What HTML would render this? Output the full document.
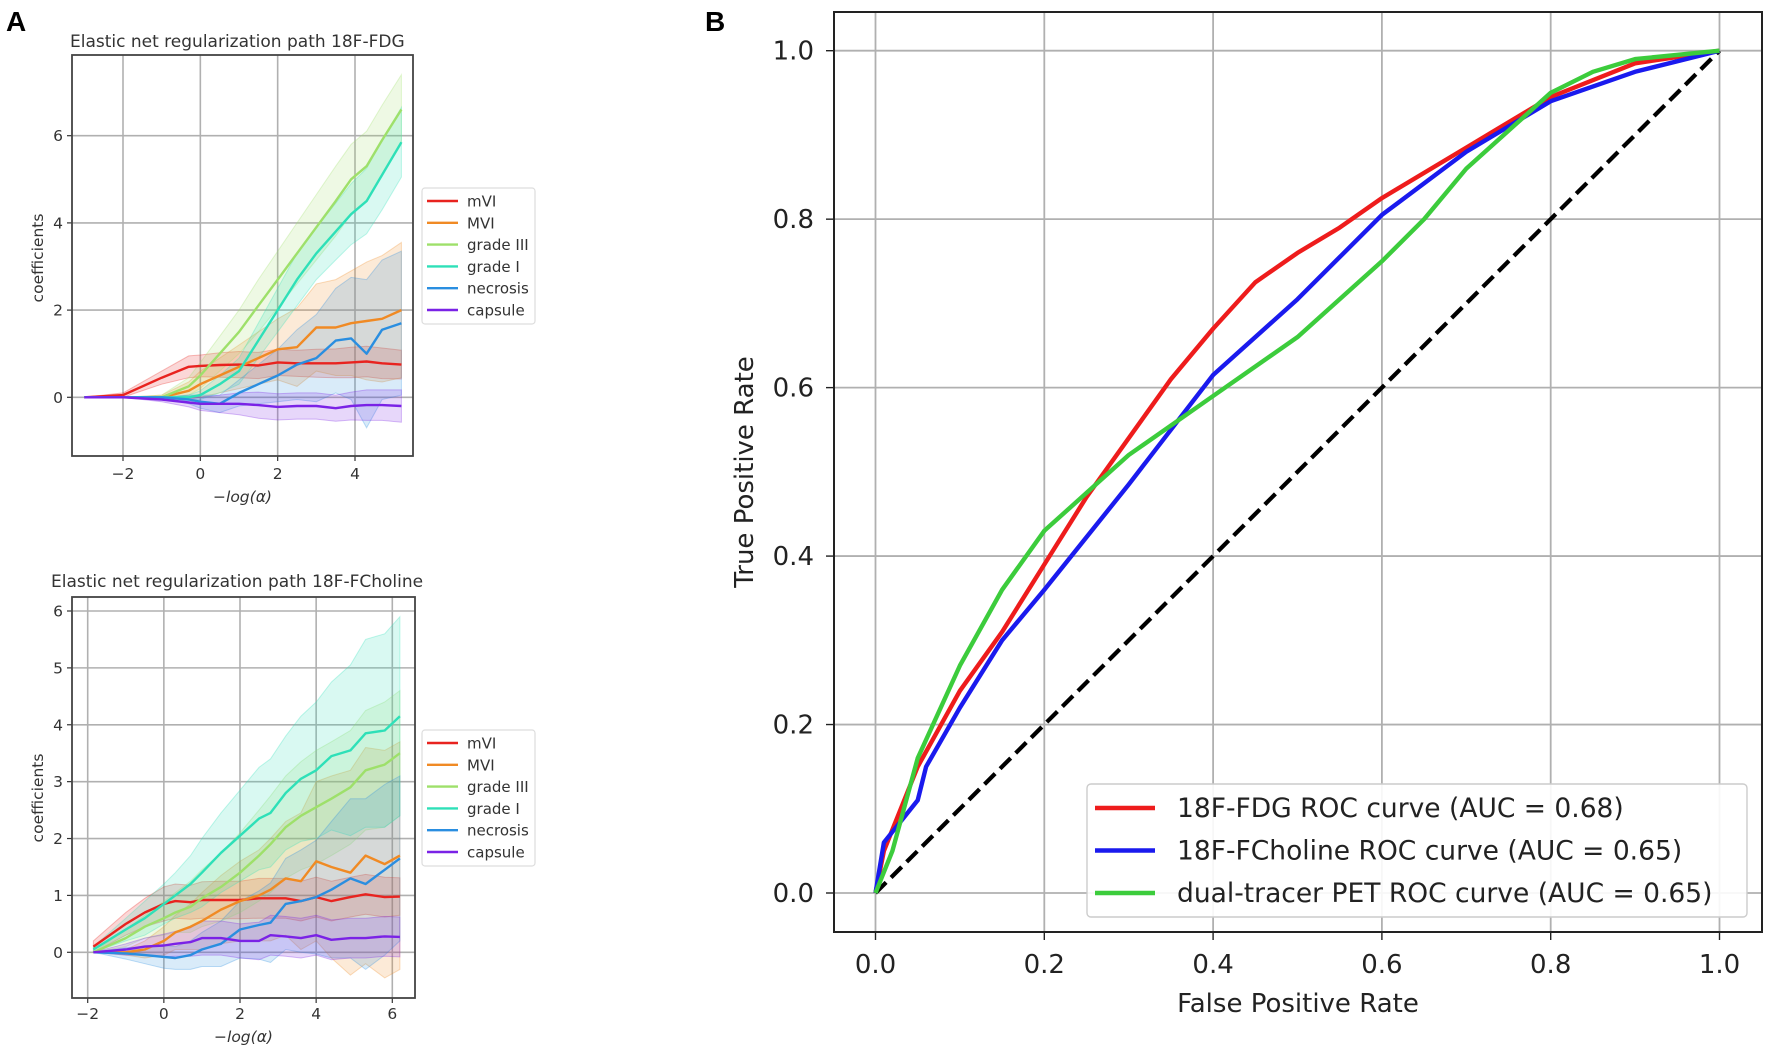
<!DOCTYPE html>
<html><head><meta charset="utf-8">
<style>
html,body{margin:0;padding:0;background:#fff;}
svg{display:block;font-family:"DejaVu Sans","Liberation Sans",sans-serif;}
</style></head>
<body>
<svg id="fig" width="1772" height="1052" viewBox="0 0 1772 1052">
<text x="6" y="31" font-size="28" font-weight="bold" font-family="Liberation Sans, sans-serif">A</text>
<text x="705" y="31" font-size="28" font-weight="bold" font-family="Liberation Sans, sans-serif">B</text>
</svg>
<script>
// ---------- Panel A top (18F-FDG) data ----------
const topX = [-3,-2,-1,-0.3,0,0.5,1,1.5,2,2.5,3,3.5,3.9,4.3,4.7,5.2];
const topMVIsmall = [0,0.05,0.45,0.7,0.72,0.74,0.75,0.73,0.8,0.78,0.78,0.78,0.8,0.82,0.78,0.75];
const topMVI = [0,0,0,0.15,0.3,0.5,0.7,0.9,1.1,1.15,1.6,1.6,1.7,1.75,1.8,2.0];
const topGradeIII = [0,0,0,0.25,0.5,1.0,1.5,2.1,2.7,3.3,3.9,4.5,5.0,5.3,5.9,6.6];
const topGradeI = [0,0,0,0,0.05,0.3,0.6,1.3,2.0,2.7,3.3,3.8,4.2,4.5,5.1,5.85];
const topNecrosis = [0,0,0,-0.05,-0.1,-0.15,0.1,0.3,0.5,0.75,0.9,1.3,1.35,1.0,1.55,1.7];
const topCapsule = [0,0,-0.05,-0.12,-0.15,-0.15,-0.15,-0.18,-0.22,-0.2,-0.2,-0.25,-0.2,-0.18,-0.18,-0.2];
const topSpreadMVIsmall = [0,0.05,0.15,0.25,0.25,0.28,0.3,0.3,0.3,0.3,0.32,0.33,0.35,0.35,0.35,0.33];
const topSpreadMVI = [0,0,0.05,0.2,0.3,0.4,0.5,0.6,0.7,0.9,1.0,1.1,1.2,1.35,1.45,1.55];
const topSpreadGradeIII = [0,0,0.05,0.2,0.3,0.4,0.5,0.6,0.65,0.7,0.75,0.8,0.8,0.8,0.8,0.8];
const topSpreadGradeI = [0,0,0,0.05,0.1,0.2,0.3,0.4,0.5,0.6,0.6,0.65,0.7,0.75,0.8,0.8];
const topSpreadNecrosis = [0,0,0,0.1,0.15,0.2,0.3,0.45,0.6,0.8,1.0,1.2,1.4,1.7,1.6,1.65];
const topSpreadCapsule = [0,0,0.05,0.1,0.15,0.2,0.25,0.3,0.3,0.3,0.3,0.3,0.32,0.35,0.35,0.37];
const topYTicks = [0,2,4,6];
const topXTicks = [-2,0,2,4];

// ---------- Panel A bottom (18F-FCholine) data ----------
const botX = [-1.85,-1,-0.5,0,0.3,0.7,1,1.5,2,2.5,2.8,3.2,3.6,4,4.4,4.9,5.3,5.8,6.2];
const botMVIsmall = [0.1,0.5,0.7,0.85,0.9,0.88,0.92,0.92,0.92,0.95,0.95,0.95,0.9,0.97,0.9,0.97,1.02,0.97,0.98];
const botMVI = [0,0,0.05,0.2,0.35,0.45,0.55,0.75,0.9,1.0,1.1,1.3,1.25,1.6,1.5,1.4,1.7,1.55,1.7];
const botGradeIII = [0,0.25,0.45,0.6,0.7,0.8,0.95,1.15,1.4,1.7,1.9,2.2,2.4,2.55,2.7,2.9,3.2,3.3,3.5];
const botGradeI = [0.05,0.4,0.6,0.85,1.0,1.2,1.4,1.75,2.05,2.35,2.45,2.8,3.05,3.2,3.45,3.55,3.85,3.9,4.15];
const botNecrosis = [0,-0.02,-0.05,-0.08,-0.1,-0.05,0.05,0.15,0.4,0.48,0.52,0.85,0.9,0.97,1.1,1.3,1.2,1.45,1.65];
const botCapsule = [0,0.05,0.1,0.12,0.15,0.18,0.25,0.25,0.2,0.2,0.3,0.28,0.25,0.3,0.22,0.25,0.25,0.28,0.27];
const botSpreadMVIsmall = [0.1,0.2,0.25,0.3,0.3,0.3,0.32,0.33,0.33,0.35,0.35,0.35,0.35,0.35,0.35,0.35,0.35,0.35,0.33];
const botSpreadMVI = [0,0.05,0.15,0.25,0.3,0.4,0.5,0.6,0.7,0.8,0.9,1.0,1.2,1.4,1.6,1.8,1.9,2.0,2.0];
const botSpreadGradeIII = [0,0.15,0.2,0.3,0.35,0.45,0.5,0.6,0.7,0.8,0.85,0.9,0.95,1.0,1.0,1.0,1.05,1.1,1.1];
const botSpreadGradeI = [0.05,0.2,0.3,0.35,0.4,0.5,0.6,0.7,0.8,0.9,0.95,1.0,1.1,1.2,1.3,1.5,1.65,1.7,1.75];
const botSpreadNecrosis = [0,0.1,0.15,0.2,0.2,0.25,0.3,0.4,0.5,0.6,0.7,0.8,0.9,1.0,1.2,1.4,1.5,1.5,1.45];
const botSpreadCapsule = [0,0.1,0.15,0.2,0.22,0.25,0.3,0.3,0.3,0.33,0.35,0.35,0.35,0.35,0.35,0.35,0.35,0.35,0.35];
const botYTicks = [0,1,2,3,4,5,6];
const botXTicks = [-2,0,2,4,6];

const featureNames = ["mVI","MVI","grade III","grade I","necrosis","capsule"];
const featureColors = ["#e8231f","#f08a24","#9ee06a","#2ee0b8","#2a8ee0","#7a22e6"];

// ---------- Panel B (ROC) data ----------
const fdgFPR = [0,0.01,0.05,0.1,0.15,0.2,0.25,0.3,0.35,0.4,0.45,0.5,0.55,0.6,0.7,0.8,0.9,1];
const fdgTPR = [0,0.05,0.15,0.24,0.31,0.39,0.47,0.54,0.61,0.67,0.725,0.76,0.79,0.825,0.885,0.945,0.985,1];
const choFPR = [0,0.01,0.05,0.06,0.1,0.15,0.2,0.3,0.4,0.5,0.55,0.6,0.7,0.8,0.9,1];
const choTPR = [0,0.06,0.11,0.15,0.22,0.3,0.36,0.485,0.615,0.705,0.755,0.805,0.88,0.94,0.975,1];
const dualFPR = [0,0.02,0.05,0.1,0.15,0.2,0.25,0.3,0.4,0.5,0.6,0.65,0.7,0.8,0.85,0.9,1];
const dualTPR = [0,0.05,0.16,0.27,0.36,0.43,0.475,0.52,0.59,0.66,0.75,0.8,0.86,0.95,0.975,0.99,1];
const rocTicks = [0,0.2,0.4,0.6,0.8,1.0];
const rocTickLabels = ["0.0","0.2","0.4","0.6","0.8","1.0"];
const rocLegendLabels = ["18F-FDG ROC curve (AUC = 0.68)","18F-FCholine ROC curve (AUC = 0.65)","dual-tracer PET ROC curve (AUC = 0.65)"];

const NS = "http://www.w3.org/2000/svg";
const svg = document.getElementById('fig');
function mk(tag, attrs, parent){
  const e = document.createElementNS(NS, tag);
  for (const k in attrs) e.setAttribute(k, attrs[k]);
  (parent||svg).appendChild(e);
  return e;
}
function lin(d0,d1,r0,r1){ return v => r0 + (v-d0)*(r1-r0)/(d1-d0); }

function pathPanel(cfg){
  const g = mk('g', {});
  
  
  const xs = lin(cfg.xd[0], cfg.xd[1], cfg.xr[0], cfg.xr[1]);
  const ys = lin(cfg.yd[0], cfg.yd[1], cfg.yr[0], cfg.yr[1]);
  const L = cfg.box[0], T = cfg.box[1], R = cfg.box[2], B = cfg.box[3];
  cfg.xticks.forEach(t => {
    const l = mk('line', {x1:xs(t), x2:xs(t), y1:T, y2:B, stroke:'#b0b0b0', 'stroke-width':1.6}, g);
    
    
    mk('line', {x1:xs(t), x2:xs(t), y1:B, y2:B+5, stroke:'#333', 'stroke-width':1.2}, g);
    const tx = mk('text', {x:xs(t), y:cfg.xTickY, 'font-size':15.5, 'text-anchor':'middle', fill:'#333'}, g);
    tx.textContent = (t<0?'\u2212'+(-t):String(t));
    
    
  });
  cfg.yticks.forEach(t => {
    const l = mk('line', {x1:L, x2:R, y1:ys(t), y2:ys(t), stroke:'#b0b0b0', 'stroke-width':1.6}, g);
    
    
    mk('line', {x1:L-5, x2:L, y1:ys(t), y2:ys(t), stroke:'#333', 'stroke-width':1.2}, g);
    const tx = mk('text', {x:L-9, y:ys(t)+5.5, 'font-size':15.5, 'text-anchor':'end', fill:'#333'}, g);
    tx.textContent = String(t);
    
    
  });
  cfg.series.forEach((s,i) => {
    const up = s.v.map((v,j) => xs(cfg.x[j]).toFixed(1)+','+ys(v+s.sp[j]).toFixed(1));
    const lo = s.v.map((v,j) => xs(cfg.x[j]).toFixed(1)+','+ys(v-s.sp[j]).toFixed(1)).reverse();
    const band = mk('polygon', {points: up.concat(lo).join(' '), fill:featureColors[i], 'fill-opacity':0.18, stroke:featureColors[i], 'stroke-opacity':0.3, 'stroke-width':1}, g);
    
    
  });
  cfg.series.forEach((s,i) => {
    const pts = s.v.map((v,j) => xs(cfg.x[j]).toFixed(1)+','+ys(v).toFixed(1)).join(' ');
    const pl = mk('polyline', {points:pts, fill:'none', stroke:featureColors[i], 'stroke-width':2.4, 'stroke-linejoin':'round'}, g);
    
    
  });
  const fr = mk('rect', {x:L, y:T, width:R-L, height:B-T, fill:'none', stroke:'#444', 'stroke-width':1.8}, g);
  
  
  const ti = mk('text', {x:cfg.titleX, y:cfg.titleY, 'font-size':17, fill:'#333'}, g);
  ti.textContent = cfg.title;
  
  
  const xl = mk('text', {x:(L+R)/2, y:cfg.xLabelY, 'font-size':15.5, 'font-style':'italic', 'text-anchor':'middle', fill:'#333'}, g);
  xl.textContent = '\u2212log(\u03b1)';
  
  
  const yl = mk('text', {x:0, y:0, 'font-size':15.5, 'text-anchor':'middle', fill:'#333', transform:'translate(43,'+cfg.yLabelY+') rotate(-90)'}, g);
  yl.textContent = 'coefficients';
  
  
  const lg = mk('g', {}, g);
  
  
  mk('rect', {x:422, y:cfg.legTop, width:113, height:136, rx:3, fill:'#fff', 'fill-opacity':0.85, stroke:'#ddd', 'stroke-width':1.2}, lg);
  featureNames.forEach((n,i) => {
    const y = cfg.legTop + 13 + i*21.8;
    const e = mk('g', {}, lg);
    
    
    mk('line', {x1:427, x2:458, y1:y, y2:y, stroke:featureColors[i], 'stroke-width':2.4}, e);
    const t = mk('text', {x:467, y:y+5.5, 'font-size':15, fill:'#333'}, e);
    t.textContent = n;
  });
}

function ser(vs, sps){ return vs.map((v,i)=>({v:v, sp:sps[i]})); }

pathPanel({name:'fdg-path-chart', x:topX, xd:[-2,4], xr:[123,355], yd:[0,6], yr:[397.3,135.7],
  box:[72,55,413,456], xticks:topXTicks, yticks:topYTicks, xTickY:479, xLabelY:502, yLabelY:258,
  title:'Elastic net regularization path 18F-FDG', titleX:70, titleY:47, legTop:188,
  series: ser([topMVIsmall,topMVI,topGradeIII,topGradeI,topNecrosis,topCapsule],
              [topSpreadMVIsmall,topSpreadMVI,topSpreadGradeIII,topSpreadGradeI,topSpreadNecrosis,topSpreadCapsule])});

pathPanel({name:'fcholine-path-chart', x:botX, xd:[-2,6], xr:[87.7,392.3], yd:[0,6], yr:[952.3,611],
  box:[72,597,415,998], xticks:botXTicks, yticks:botYTicks, xTickY:1019, xLabelY:1042, yLabelY:798,
  title:'Elastic net regularization path 18F-FCholine', titleX:51, titleY:587, legTop:730,
  series: ser([botMVIsmall,botMVI,botGradeIII,botGradeI,botNecrosis,botCapsule],
              [botSpreadMVIsmall,botSpreadMVI,botSpreadGradeIII,botSpreadGradeI,botSpreadNecrosis,botSpreadCapsule])});

// ---------- ROC panel ----------
(function(){
  const g = mk('g', {});
  
  
  const L=834, T=12, R=1762, B=932;
  const xs = lin(0,1,875.5,1719.5), ys = lin(0,1,893,50.7);
  rocTicks.forEach((t,i) => {
    const gx = mk('line', {x1:xs(t), x2:xs(t), y1:T, y2:B, stroke:'#b0b0b0', 'stroke-width':1.8}, g);
    
    
    mk('line', {x1:xs(t), x2:xs(t), y1:B, y2:B+8, stroke:'#222', 'stroke-width':1.4}, g);
    const tx = mk('text', {x:xs(t), y:973, 'font-size':26, 'text-anchor':'middle', fill:'#222'}, g);
    tx.textContent = rocTickLabels[i];
    
    
    const gy = mk('line', {x1:L, x2:R, y1:ys(t), y2:ys(t), stroke:'#b0b0b0', 'stroke-width':1.8}, g);
    
    
    mk('line', {x1:L-8, x2:L, y1:ys(t), y2:ys(t), stroke:'#222', 'stroke-width':1.4}, g);
    const ty = mk('text', {x:814, y:ys(t)+9, 'font-size':26, 'text-anchor':'end', fill:'#222'}, g);
    ty.textContent = rocTickLabels[i];
    
    
  });
  const dg = mk('line', {x1:xs(0), y1:ys(0), x2:xs(1), y2:ys(1), stroke:'#000', 'stroke-width':4.2, 'stroke-dasharray':'15,7'}, g);
  
  
  const curves = [[fdgFPR,fdgTPR,'#ee1c1c','roc-fdg'],[choFPR,choTPR,'#1a1aee','roc-fcholine'],[dualFPR,dualTPR,'#3ccc3c','roc-dual-tracer']];
  curves.forEach(c => {
    const pts = c[0].map((x,j)=> xs(x).toFixed(1)+','+ys(c[1][j]).toFixed(1)).join(' ');
    const pl = mk('polyline', {points:pts, fill:'none', stroke:c[2], 'stroke-width':4.4, 'stroke-linejoin':'round'}, g);
    
    
  });
  mk('rect', {x:L, y:T, width:R-L, height:B-T, fill:'none', stroke:'#222', 'stroke-width':2}, g);
  const xl = mk('text', {x:1298, y:1012, 'font-size':26, 'text-anchor':'middle', fill:'#222'}, g);
  xl.textContent = 'False Positive Rate';
  
  
  const yl = mk('text', {x:0, y:0, 'font-size':26, 'text-anchor':'middle', fill:'#222', transform:'translate(753,472) rotate(-90)'}, g);
  yl.textContent = 'True Positive Rate';
  
  
  const lg = mk('g', {}, g);
  
  
  mk('rect', {x:1087, y:784, width:660, height:133, rx:4, fill:'#fff', 'fill-opacity':0.9, stroke:'#ccc', 'stroke-width':1.4}, lg);
  rocLegendLabels.forEach((lab,i) => {
    const y = 808 + i*42.5;
    const e = mk('g', {}, lg);
    
    
    mk('line', {x1:1095, x2:1155, y1:y, y2:y, stroke:curves[i][2], 'stroke-width':4.4}, e);
    const t = mk('text', {x:1177, y:y+9, 'font-size':26.5, fill:'#222'}, e);
    t.textContent = lab;
  });
})();
</script>
</body></html>
